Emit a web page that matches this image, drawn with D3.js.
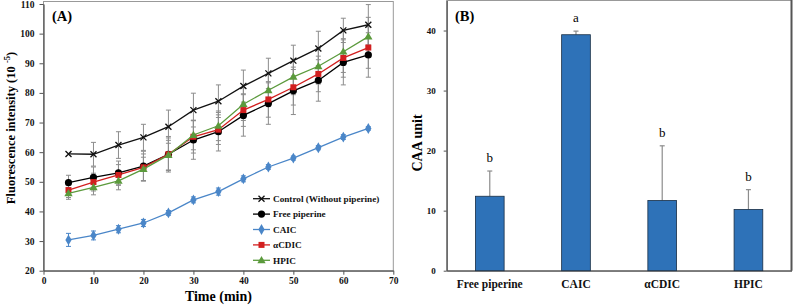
<!DOCTYPE html>
<html><head><meta charset="utf-8">
<script src="https://cdn.jsdelivr.net/npm/d3@7/dist/d3.min.js"></script>
<style>
body{margin:0;background:#fff;}
svg{display:block;font-family:"Liberation Serif","Times New Roman",serif;}
.tick text{font-weight:bold;}
</style></head>
<body><svg id="c" width="793" height="305"></svg>
<script>
// ---------- Data (Panel A) ----------
const times = [5,10,15,20,25,30,35,40,45,50,55,60,65];
const seriesNames = ["Control (Without piperine)","Free piperine","CAIC","\u03B1CDIC","HPIC"];
const controlVals = [59.4,59.3,62.4,65.0,68.6,74.2,77.2,82.3,86.6,90.9,95.0,101.1,103.0];
const controlErr  = [0,4.0,4.5,4.4,5.6,5.7,5.5,5.4,5.1,5.2,5.8,4.1,6.8];
const freeVals = [49.7,51.5,53.0,55.3,59.3,64.1,66.9,72.4,76.4,80.7,84.2,90.3,92.8];
const freeErr  = [2.5,3.5,4.0,5.0,6.0,6.5,6.5,7.0,7.0,8.0,7.0,7.6,7.5];
const caicVals = [30.4,31.9,34.0,36.1,39.5,43.9,46.7,51.0,55.0,58.0,61.5,65.1,68.0];
const caicErr  = [2.2,1.5,1.2,1.2,0.8,1.0,1.2,1.0,0.8,0.7,0.7,0.8,0.6];
const acdicVals = [47.2,49.9,52.3,54.9,59.3,65.2,67.6,74.2,77.8,81.9,86.4,91.8,95.3];
const acdicErr  = [2.5,3.0,3.5,4.5,5.5,5.5,5.0,5.5,6.0,6.0,6.0,6.5,7.0];
const hpicVals = [46.1,48.1,50.3,54.3,59.0,65.8,68.9,76.2,80.9,85.4,89.0,93.9,99.0];
const hpicErr  = [2.0,2.5,3.0,4.0,5.0,5.0,5.0,5.5,5.5,6.0,6.0,7.0,6.5];
const xTicksA = [0,10,20,30,40,50,60,70];
const yTicksA = [20,30,40,50,60,70,80,90,100,110];

// ---------- Data (Panel B) ----------
const barCats = ["Free piperine","CAIC","\u03B1CDIC","HPIC"];
const barVals = [12.4,39.3,11.7,10.2];
const barErr  = [4.2,0.6,9.1,3.3];
const barLetters = ["b","a","b","b"];
const yTicksB = [0,10,20,30,40];

const svg = d3.select("#c");
const gray = "#8c8c8c";

// ================= Panel A =================
const A = {l:43.5, r:393.3, t:4, b:270.7};
const xA = d3.scaleLinear().domain([0,70]).range([A.l, A.r]);
const yA = d3.scaleLinear().domain([20,110]).range([A.b, A.t]);

const gA = svg.append("g");
gA.append("rect").attr("x",A.l).attr("y",1.5).attr("width",A.r-A.l).attr("height",A.b-1.5)
  .attr("fill","none").attr("stroke","#999").attr("stroke-width",1);

const axXA = gA.append("g").attr("transform",`translate(0,${A.b})`)
  .call(d3.axisBottom(xA).tickValues(xTicksA).tickSize(4).tickSizeOuter(0));
const axYA = gA.append("g").attr("transform",`translate(${A.l},0)`)
  .call(d3.axisLeft(yA).tickValues(yTicksA).tickSize(4).tickSizeOuter(0));
[axXA,axYA].forEach(ax=>{
  ax.select(".domain").attr("stroke","#555").attr("stroke-width",1.3);
  ax.selectAll(".tick line").attr("stroke","#555");
  ax.selectAll(".tick text").attr("font-size","9.5px").attr("font-family","Liberation Serif").attr("fill","#111");
});
axYA.selectAll(".tick text").attr("dx","-2");

const seriesA = [
  {name:seriesNames[0], v:controlVals, e:controlErr, color:"#111", shape:"x"},
  {name:seriesNames[1], v:freeVals, e:freeErr, color:"#000", shape:"circle"},
  {name:seriesNames[2], v:caicVals, e:caicErr, color:"#4a86c8", shape:"diamond"},
  {name:seriesNames[3], v:acdicVals, e:acdicErr, color:"#d21f1f", shape:"square"},
  {name:seriesNames[4], v:hpicVals, e:hpicErr, color:"#5b9a3c", shape:"triangle"}
];

function marker(g, shape, color, cx, cy){
  if(shape==="x"){
    const s=3;
    g.append("path").attr("d",`M${cx-s},${cy-s}L${cx+s},${cy+s}M${cx-s},${cy+s}L${cx+s},${cy-s}`)
      .attr("stroke",color).attr("stroke-width",1.3).attr("fill","none");
  } else if(shape==="circle"){
    g.append("circle").attr("cx",cx).attr("cy",cy).attr("r",3.6).attr("fill",color);
  } else if(shape==="diamond"){
    g.append("path").attr("d",d3.symbol(d3.symbolDiamond,34)()).attr("transform",`translate(${cx},${cy})`).attr("fill",color);
  } else if(shape==="square"){
    g.append("rect").attr("x",cx-3).attr("y",cy-3).attr("width",6).attr("height",6).attr("fill",color);
  } else if(shape==="triangle"){
    g.append("path").attr("d",d3.symbol(d3.symbolTriangle,30)()).attr("transform",`translate(${cx},${cy+0.5})`).attr("fill",color);
  }
}

const gErr = gA.append("g");
seriesA.forEach(s=>{
  times.forEach((t,i)=>{
    const e=s.e[i]; if(!e) return;
    const x=xA(t), y1=yA(s.v[i]+e), y2=yA(s.v[i]-e);
    const col = s.shape==="diamond" ? "#4a86c8" : gray;
    gErr.append("line").attr("x1",x).attr("x2",x).attr("y1",y1).attr("y2",y2).attr("stroke",col).attr("stroke-width",1);
    gErr.append("line").attr("x1",x-2.5).attr("x2",x+2.5).attr("y1",y1).attr("y2",y1).attr("stroke",col).attr("stroke-width",1);
    gErr.append("line").attr("x1",x-2.5).attr("x2",x+2.5).attr("y1",y2).attr("y2",y2).attr("stroke",col).attr("stroke-width",1);
  });
});

const line = d3.line().x(d=>xA(d[0])).y(d=>yA(d[1]));
[2,1,3,4,0].forEach(k=>{
  const s=seriesA[k];
  const pts = times.map((t,i)=>[t,s.v[i]]);
  gA.append("path").attr("d",line(pts)).attr("fill","none").attr("stroke",s.color).attr("stroke-width",1.3);
  pts.forEach(p=>marker(gA,s.shape,s.color,xA(p[0]),yA(p[1])));
});

const lg = gA.append("g");
seriesA.forEach((s,i)=>{
  const y = 198.7 + i*15.4;
  lg.append("line").attr("x1",253).attr("x2",270).attr("y1",y).attr("y2",y).attr("stroke",s.color).attr("stroke-width",1.3);
  marker(lg,s.shape,s.color,261.5,y);
  lg.append("text").attr("x",273).attr("y",y).attr("dy","0.35em").attr("font-size","9.2px")
    .attr("font-weight","bold").attr("fill","#111").text(s.name);
});

gA.append("text").attr("x",52).attr("y",21).attr("font-size","14.5px").attr("font-weight","bold").text("(A)");
gA.append("text").attr("x",(A.l+A.r)/2).attr("y",301).attr("text-anchor","middle")
  .attr("font-size","14px").attr("font-weight","bold").text("Time (min)");
const yt = gA.append("text").attr("transform",`translate(15,128) rotate(-90)`)
  .attr("text-anchor","middle").attr("font-size","12.5px").attr("font-weight","bold");
yt.append("tspan").text("Fluorescence intensity (10 ");
yt.append("tspan").attr("dy","-5").attr("font-size","8.5px").text("-5");
yt.append("tspan").attr("dy","5").text(")");

// ================= Panel B =================
const B = {l:446.7, r:791.5, t:0.5, b:270.7};
const xB = d3.scaleBand().domain(barCats).range([B.l,B.r]).paddingInner(0.667).paddingOuter(0.333);
const yB = d3.scaleLinear().domain([0,45]).range([B.b,B.t]);
const gB = svg.append("g");
gB.append("rect").attr("x",B.l).attr("y",0.5).attr("width",B.r-B.l).attr("height",B.b-0.5)
  .attr("fill","none").attr("stroke","#999").attr("stroke-width",1);
gB.append("line").attr("x1",B.r).attr("x2",B.r).attr("y1",0).attr("y2",B.b).attr("stroke","#555").attr("stroke-width",2);

const axYB = gB.append("g").attr("transform",`translate(${B.l},0)`)
  .call(d3.axisLeft(yB).tickValues(yTicksB).tickSize(3).tickSizeOuter(0));
axYB.select(".domain").attr("stroke","#555").attr("stroke-width",1.3);
axYB.selectAll(".tick line").attr("stroke","#555");
axYB.selectAll(".tick text").attr("font-size","9px").attr("font-family","Liberation Serif").attr("fill","#111").attr("dx","-5");
const axXB = gB.append("g").attr("transform",`translate(0,${B.b})`)
  .call(d3.axisBottom(xB).tickSize(0).tickSizeOuter(0));
axXB.select(".domain").attr("stroke","#555").attr("stroke-width",1.3);
axXB.selectAll(".tick text").attr("font-size","11.5px").attr("font-family","Liberation Serif").attr("fill","#111").attr("dy","1.25em");

barCats.forEach((c,i)=>{
  const x=xB(c), w=xB.bandwidth(), cx=x+w/2;
  const yTop=yB(barVals[i]+barErr[i]);
  gB.append("line").attr("x1",cx).attr("x2",cx).attr("y1",yB(barVals[i])).attr("y2",yTop).attr("stroke",gray).attr("stroke-width",1.2);
  gB.append("line").attr("x1",cx-2.5).attr("x2",cx+2.5).attr("y1",yTop).attr("y2",yTop).attr("stroke",gray).attr("stroke-width",1.2);
  gB.append("rect").attr("x",x).attr("y",yB(barVals[i])).attr("width",w).attr("height",B.b-yB(barVals[i]))
    .attr("fill","#2e72b8").attr("stroke","#1a2f45").attr("stroke-width",0.8);
  gB.append("text").attr("x",cx).attr("y",yTop-9).attr("text-anchor","middle").attr("font-size","13px").attr("fill","#000").text(barLetters[i]);
});

gB.append("text").attr("x",455).attr("y",21).attr("font-size","14.5px").attr("font-weight","bold").text("(B)");
gB.append("text").attr("transform",`translate(422,143) rotate(-90)`).attr("text-anchor","middle")
  .attr("font-size","14px").attr("font-weight","bold").text("CAA unit");
</script></body></html>
